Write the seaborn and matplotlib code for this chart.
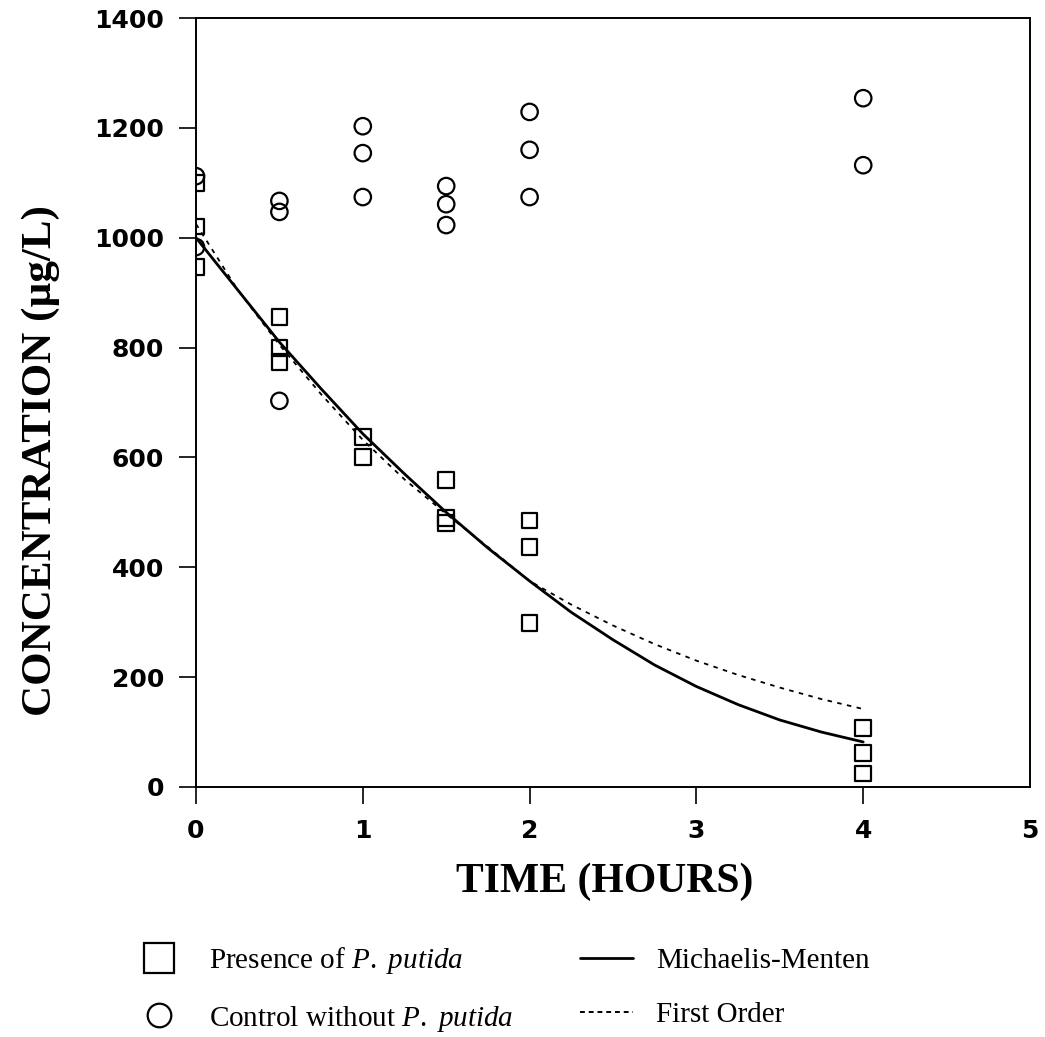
import matplotlib
matplotlib.use("Agg")
import matplotlib.pyplot as plt
import pandas as pd
import seaborn as sns
from matplotlib.lines import Line2D

# measured points, presence of P. putida (squares)
sq_time = [0, 0, 0, 0.5, 0.5, 0.5, 1, 1, 1.5, 1.5, 1.5, 2, 2, 2, 4, 4, 4]
sq_conc = [1100, 1020, 947, 856, 799, 774, 637, 601, 559, 490, 481, 485, 437, 299, 107, 62, 25]

# control without P. putida (circles)
ci_time = [0, 0, 0.5, 0.5, 0.5, 1, 1, 1, 1.5, 1.5, 1.5, 2, 2, 2, 4, 4]
ci_conc = [1112, 983, 1067, 1047, 703, 1203, 1154, 1074, 1094, 1061, 1023, 1229, 1160, 1074, 1254, 1132]

# model curves
fit_time = [0, 0.25, 0.5, 0.75, 1, 1.25, 1.5, 1.75, 2, 2.25, 2.5, 2.75, 3, 3.25, 3.5, 3.75, 4]
mm_conc = [1000, 905, 810, 725, 643, 570, 500, 435, 375, 318, 268, 222, 183, 150, 122, 100, 82]
fo_conc = [1025, 905, 805, 715, 632, 560, 497, 437, 375, 332, 294, 260, 230, 204, 181, 160, 142]

x_ticks = [0, 1, 2, 3, 4, 5]
y_ticks = [0, 200, 400, 600, 800, 1000, 1200, 1400]

sq_df = pd.DataFrame({"time": sq_time, "conc": sq_conc})
ci_df = pd.DataFrame({"time": ci_time, "conc": ci_conc})
fit_df = pd.DataFrame({"time": fit_time, "mm": mm_conc, "fo": fo_conc})

sns.set_theme(style="ticks")
plt.rcParams["font.family"] = ["DejaVu Sans"]
plt.rcParams["text.color"] = "black"
plt.rcParams["axes.labelcolor"] = "black"
plt.rcParams["xtick.color"] = "black"
plt.rcParams["ytick.color"] = "black"
plt.rcParams["mathtext.fontset"] = "custom"
plt.rcParams["mathtext.rm"] = "Liberation Serif"
plt.rcParams["mathtext.it"] = "Liberation Serif:italic"

fig = plt.figure(figsize=(10.45, 10.37), dpi=100)
ax = fig.add_axes([196 / 1045, 1 - 787 / 1037, (1030 - 196) / 1045, (787 - 18) / 1037])

sns.scatterplot(data=sq_df, x="time", y="conc", marker="s", s=125, facecolor="none",
                edgecolor="black", linewidth=1.6, ax=ax, zorder=3)
sns.scatterplot(data=ci_df, x="time", y="conc", marker="o", s=140, facecolor="none",
                edgecolor="black", linewidth=1.6, ax=ax, zorder=3)
sns.lineplot(data=fit_df, x="time", y="mm", color="black", linewidth=2.0, ax=ax)
sns.lineplot(data=fit_df, x="time", y="fo", color="black", linewidth=1.3,
             linestyle=(0, (2.5, 3)), ax=ax)

ax.set_xlim(0, 5)
ax.set_ylim(0, 1400)
ax.set_xticks(x_ticks)
ax.set_yticks(y_ticks)
ax.xaxis.get_major_ticks()[-1].tick1line.set_visible(False)
ax.tick_params(axis="both", direction="out", length=12, width=1.2, colors="black",
               labelsize=18, pad=11)
for lab in ax.get_xticklabels() + ax.get_yticklabels():
    lab.set_fontweight("heavy")
for sp in ax.spines.values():
    sp.set_visible(True)
    sp.set_linewidth(1.4)
    sp.set_color("black")

ax.set_xlabel("TIME (HOURS)", fontfamily="Liberation Serif", fontweight="bold", fontsize=30)
ax.set_ylabel("CONCENTRATION (µg/L)", fontfamily="Liberation Serif", fontweight="bold", fontsize=31)
ax.xaxis.set_label_coords(0.49, -0.098)
ax.yaxis.set_label_coords(-0.163, 0.425)

handles = [
    Line2D([], [], marker="s", linestyle="none", markersize=21, markerfacecolor="none",
           markeredgecolor="black", markeredgewidth=1.6),
    Line2D([], [], marker="o", linestyle="none", markersize=17, markerfacecolor="none",
           markeredgecolor="black", markeredgewidth=1.6),
    Line2D([], [], color="black", linewidth=2.0),
    Line2D([], [], color="black", linewidth=1.4, linestyle=(0, (2.5, 2))),
]
labels = [
    r"Presence of $\mathit{P.}$ $\mathit{putida}$",
    r"Control without $\mathit{P.}$ $\mathit{putida}$",
    "Michaelis-Menten",
    "First Order",
]
fig.legend(handles, labels, ncol=2, loc="upper left", bbox_to_anchor=(133 / 1045, 1 - 945 / 1037),
           frameon=False, prop={"family": "Liberation Serif", "size": 21},
           handlelength=1.8, handletextpad=0.8, columnspacing=2.3, labelspacing=0.95,
           borderpad=0, borderaxespad=0)

fig.savefig("out.png", dpi=100, facecolor="white")
